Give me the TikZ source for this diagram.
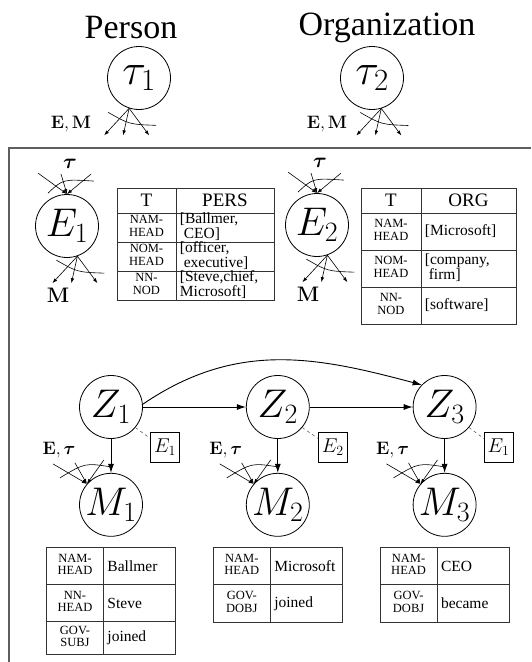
\documentclass[tikz,border=0pt]{standalone}
\usepackage{fix-cm}
\usepackage{amsmath,bm}
\usepackage[no-math]{fontspec}
\setmainfont{Liberation Serif}
\usetikzlibrary{positioning,calc,matrix,arrows.meta}
\definecolor{FrameGray}{RGB}{95,95,95}
\newcommand{\twoln}[2]{\begin{tabular}{@{}c@{}}#1\\#2\end{tabular}}
\newcommand{\twolnl}[2]{\begin{tabular}{@{}l@{}}#1\\#2\end{tabular}}
\tikzset{
  var/.style={circle,draw=black,line width=0.8pt,minimum size=63pt,inner sep=0pt,font=\fontsize{40}{44}\selectfont},
  typevar/.style={var,font=\fontsize{44}{48}\selectfont},
  title/.style={inner sep=0pt,font=\fontsize{34}{38}\selectfont},
  lbl/.style={inner sep=1pt,font=\fontsize{18}{20}\selectfont},
  blbl/.style={inner sep=1pt,font=\fontsize{21}{23}\selectfont},
  ebox/.style={draw=black,line width=0.6pt,minimum height=30pt,minimum width=29pt,inner sep=1pt,font=\fontsize{20}{22}\selectfont},
  fan/.style={line width=0.6pt,-{Latex[length=5pt,width=3.5pt]}},
  platearc/.style={line width=0.6pt},
  link/.style={line width=0.9pt,-{Latex[length=9pt,width=6pt]}},
  dashlink/.style={dashed,line width=0.5pt,black!70},
  frame/.style={draw=FrameGray,line width=1.4pt},
  tbl/.style={matrix of nodes,column sep=-0.8pt,row sep=-0.8pt,
    nodes={draw=black!80,line width=0.8pt,inner sep=0pt,anchor=center}},
  keycol/.style={nodes={text width=#1,align=center,font=\fontsize{12.5}{12.5}\selectfont}},
  valcol/.style={nodes={text width=#1,inner xsep=4pt,align=left,font=\fontsize{15.5}{12}\selectfont}},
  headrow/.style={nodes={minimum height=25pt,align=center,font=\fontsize{19}{21}\selectfont}},
}

\begin{document}
\begin{tikzpicture}[x=1pt,y=-1pt]
  \useasboundingbox (0,0) rectangle (531,662);
  % type variables
  \node[title] (pers) at (131,28) {Person};
  \node[title] (org) at (387,28) {Organization};
  \node[typevar] (t1) at (139,78) {$\tau_1$};
  \node[typevar] (t2) at (372,78) {$\tau_2$};
  \node[lbl] (t1lab) at (71,124) {$\mathbf{E},\mathbf{M}$};
  \node[lbl] (t2lab) at (327,124) {$\mathbf{E},\mathbf{M}$};

  % entity plate
  \draw[frame] (531,148) -| (9,662);
  \node[var] (e1) at (67,226) {$E_1$};
  \node[var] (e2) at (317,225) {$E_2$};
  \foreach \n in {e1,e2} {
    \node[blbl] (\n tau) at ($(\n.north)+(3,-30)$) {$\bm{\tau}$};
    \node[blbl] (\n m) at ($(\n)+(-9,69)$) {$\mathbf{M}$};
    \foreach \dx/\dy in {-29/-21,-6/-20,24/-20} \draw[fan] ($(\n.north)+(\dx,\dy)$) -- (\n.north);
    \draw[platearc] ($(\n.north)+(-19,-1)$) .. controls ($(\n.north)+(-4,-15)$) .. ($(\n.north)+(27,-13)$);
  }
  % outgoing fans
  \foreach \n/\a in {t1/-108,t2/-73,e1/-71,e2/-71} {
    \foreach \dx in {-25,-6,20} \draw[fan] (\n.\a) -- ++(\dx,27);
    \draw[platearc] ($(\n.\a)+(-21,4)$) .. controls ($(\n.\a)+(0,16)$) .. ($(\n.\a)+(27,17)$);
  }

  \matrix (tab1) [tbl,anchor=north west,column 1/.style={keycol=59pt},column 2/.style={valcol=90pt},
    row 1/.style={headrow},row 2/.style={nodes={minimum height=29pt}},row 3/.style={nodes={minimum height=29pt}},
    row 4/.style={nodes={minimum height=29pt}}] at (113,184) {
    T & PERS \\
    \twoln{NAM-}{HEAD} & \twolnl{[Ballmer,}{\hspace*{0.25em}CEO]} \\
    \twoln{NOM-}{HEAD} & \twolnl{[officer,}{\hspace*{0.25em}executive]} \\
    \twoln{NN-}{NOD} & \twolnl{[Steve,chief,}{Microsoft]} \\
  };
  \matrix (tab2) [tbl,anchor=north west,column 1/.style={keycol=60pt},column 2/.style={valcol=87pt},
    row 1/.style={headrow},row 2/.style={nodes={minimum height=37pt}},row 3/.style={nodes={minimum height=37pt}},
    row 4/.style={nodes={minimum height=37pt}}] at (357,184) {
    T & ORG \\
    \twoln{NAM-}{HEAD} & {}[Microsoft] \\
    \twoln{NOM-}{HEAD} & \twolnl{[company,}{\hspace*{0.25em}firm]} \\
    \twoln{NN-}{NOD} & {}[software] \\
  };

  % mentions
  \node[var] (z1) at (111,407) {$Z_1$};
  \node[var] (z2) [right=103pt of z1] {$Z_2$};
  \node[var] (z3) [right=103pt of z2] {$Z_3$};
  \node[ebox] (eb1) at ($(z1)+(54,40)$) {$E_1$};
  \node[ebox] (eb2) at ($(z2)+(55,40)$) {$E_2$};
  \node[ebox] (eb3) at ($(z3)+(54,40)$) {$E_1$};
  \draw[link] (z1) -- (z2);
  \draw[link] (z2) -- (z3);
  \draw[link] (z1.5) .. controls +(94,-64) and +(-105,-28) .. (z3.136);
  \foreach \i in {1,2,3} {
    \node[var] (m\i) [below=34pt of z\i] {$M_\i$};
    \draw[link] (z\i) -- (m\i);
    \draw[dashlink] (z\i.-40) -- (eb\i.150);
    \node[lbl] (et\i) at ($(m\i)+(-52,-55)$) {$\mathbf{E},\bm{\tau}$};
    \foreach \dx/\dy in {-34/-20,-12/-21,17/-24} \draw[fan] ($(m\i.139)+(\dx,\dy)$) -- (m\i.139);
    \draw[platearc] ($(m\i.139)+(-27,-6)$) .. controls ($(m\i.139)+(-2,-21)$) .. ($(m\i.139)+(24,-17)$);
  }

  \matrix (tm1) [tbl,below=7pt of m1,column 1/.style={keycol=57pt},column 2/.style={valcol=64pt},
    row 1/.style={nodes={minimum height=37pt}},row 2/.style={nodes={minimum height=37pt}},
    row 3/.style={nodes={minimum height=33pt}}] {
    \twoln{NAM-}{HEAD} & Ballmer \\
    \twoln{NN-}{HEAD} & Steve \\
    \twoln{GOV-}{SUBJ} & joined \\
  };
  \matrix (tm2) [tbl,below=7pt of m2,column 1/.style={keycol=57pt},column 2/.style={valcol=64pt},
    row 1/.style={nodes={minimum height=37pt}},row 2/.style={nodes={minimum height=38pt}}] {
    \twoln{NAM-}{HEAD} & Microsoft \\
    \twoln{GOV-}{DOBJ} & joined \\
  };
  \matrix (tm3) [tbl,below=7pt of m3,column 1/.style={keycol=57pt},column 2/.style={valcol=64pt},
    row 1/.style={nodes={minimum height=37pt}},row 2/.style={nodes={minimum height=38pt}}] {
    \twoln{NAM-}{HEAD} & CEO \\
    \twoln{GOV-}{DOBJ} & became \\
  };
\end{tikzpicture}
\end{document}
